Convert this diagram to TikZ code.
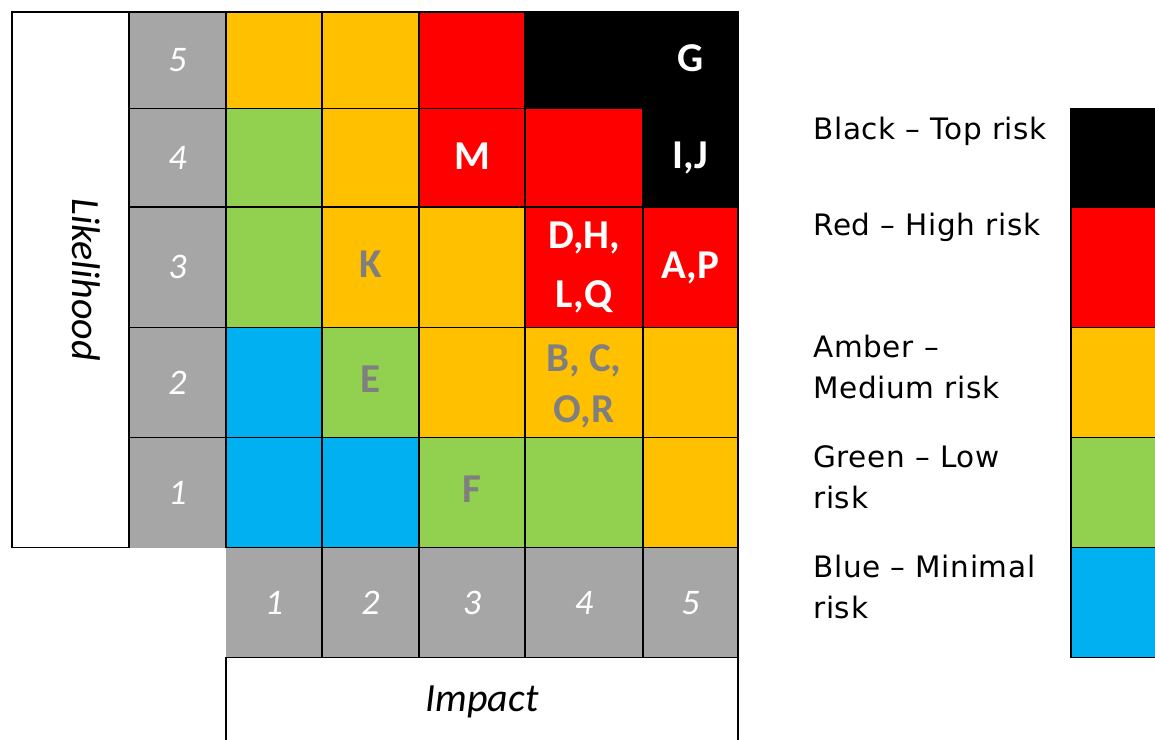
\documentclass[tikz,border=0pt]{standalone}
\usepackage{fontspec}
\setmainfont{Carlito}
\newfontfamily\legendfont[LetterSpace=2.4]{DejaVu Sans}
\definecolor{amber}{HTML}{FFC000}
\definecolor{riskred}{HTML}{FF0000}
\definecolor{riskgreen}{HTML}{92D050}
\definecolor{riskblue}{HTML}{00B0F0}
\definecolor{hdrgray}{HTML}{A6A6A6}
\definecolor{labgray}{HTML}{7F7F7F}
\begin{document}
\begin{tikzpicture}[x=1pt,y=-1pt,
  gridline/.style={line width=1.6pt, line cap=rect, black},
  numlab/.style={text=white, font=\fontsize{36}{40}\selectfont\itshape, anchor=base, inner sep=0pt},
  riskw/.style={text=white, font=\fontsize{41}{48}\selectfont\bfseries, anchor=base, inner sep=0pt},
  riskg/.style={riskw, text=labgray},
  axislab/.style={text=black, font=\fontsize{40}{46}\selectfont\itshape, anchor=base, inner sep=0pt},
  legtxt/.style={text=black, font=\legendfont\fontsize{29.5}{41}\selectfont, anchor=base west, inner sep=0pt}]
\useasboundingbox (0,0) rectangle (1155,739);
\fill[white] (0,0) rectangle (1155,739);
% header fills
\fill[hdrgray] (129,12) rectangle (226,547.5);
\fill[hdrgray] (226,547.5) rectangle (738,657.5);
% row 5
\fill[amber] (226,12) rectangle (322,108.5);
\fill[amber] (322,12) rectangle (419,108.5);
\fill[riskred] (419,12) rectangle (525,108.5);
\fill[black] (525,12) rectangle (738,108.5);
% row 4
\fill[riskgreen] (226,108.5) rectangle (322,207);
\fill[amber] (322,108.5) rectangle (419,207);
\fill[riskred] (419,108.5) rectangle (525,207);
\fill[riskred] (525,108.5) rectangle (643,207);
\fill[black] (643,108.5) rectangle (738,207);
% row 3
\fill[riskgreen] (226,207) rectangle (322,327.5);
\fill[amber] (322,207) rectangle (419,327.5);
\fill[amber] (419,207) rectangle (525,327.5);
\fill[riskred] (525,207) rectangle (643,327.5);
\fill[riskred] (643,207) rectangle (738,327.5);
% row 2
\fill[riskblue] (226,327.5) rectangle (322,437.5);
\fill[riskgreen] (322,327.5) rectangle (419,437.5);
\fill[amber] (419,327.5) rectangle (525,437.5);
\fill[amber] (525,327.5) rectangle (643,437.5);
\fill[amber] (643,327.5) rectangle (738,437.5);
% row 1
\fill[riskblue] (226,437.5) rectangle (322,547.5);
\fill[riskblue] (322,437.5) rectangle (419,547.5);
\fill[riskgreen] (419,437.5) rectangle (525,547.5);
\fill[riskgreen] (525,437.5) rectangle (643,547.5);
\fill[amber] (643,437.5) rectangle (738,547.5);
% legend fills
\fill[black] (1071,108.5) rectangle (1160,207);
\fill[riskred] (1071,207) rectangle (1160,327.5);
\fill[amber] (1071,327.5) rectangle (1160,437.5);
\fill[riskgreen] (1071,437.5) rectangle (1160,547.5);
\fill[riskblue] (1071,547.5) rectangle (1160,657.5);
% grid lines
\draw[gridline] (12,12) rectangle (129,547.5);
\draw[gridline] (129,12) -- (738,12);
\foreach \yy in {108.5,207,327.5,437.5} \draw[gridline] (129,\yy) -- (738,\yy);
\draw[gridline] (226,547.5) -- (738,547.5);
\draw[gridline] (226,657.5) -- (738,657.5);
\draw[gridline] (226,12) -- (226,547.5);
\draw[gridline] (226,657.5) -- (226,745);
\foreach \xx in {322,419,525,643} \draw[gridline] (\xx,12) -- (\xx,657.5);
\draw[gridline] (738,12) -- (738,745);
% legend lines
\draw[gridline] (1071,108.5) -- (1071,657.5);
\foreach \yy in {108.5,207,327.5,437.5,547.5,657.5} \draw[gridline] (1071,\yy) -- (1160,\yy);
% axis labels
\node[axislab, rotate=-90] (likelihood) at (72,279.5) {Likelihood};
\node[axislab] (impact) at (482,711.5) {Impact};
% row header numbers
\node[numlab] (l5) at (177.5,71.5) {5};
\node[numlab] (l4) at (177.5,169) {4};
\node[numlab] (l3) at (177.5,278.5) {3};
\node[numlab] (l2) at (177.5,394) {2};
\node[numlab] (l1) at (177.5,504) {1};
% impact numbers
\node[numlab] (i1) at (274,614) {1};
\node[numlab] (i2) at (370.5,614) {2};
\node[numlab] (i3) at (472,614) {3};
\node[numlab] (i4) at (584,614) {4};
\node[numlab] (i5) at (690.5,614) {5};
% risk labels
\node[riskw] (rG) at (690.5,71) {G};
\node[riskw] (rM) at (472,169) {M};
\node[riskw] (rIJ) at (690.5,168.5) {I,J};
\node[riskg] (rK) at (370.5,277.7) {K};
\node[riskw] (rDH) at (584,248.3) {D,H,};
\node[riskw] (rLQ) at (584,307.8) {L,Q};
\node[riskw] (rAP) at (690.5,278.3) {A,P};
\node[riskg] (rE) at (370.5,392.7) {E};
\node[riskg] (rBC) at (584,371.7) {B, C,};
\node[riskg] (rOR) at (584,422.7) {O,R};
\node[riskg] (rF) at (472,502.7) {F};
% legend text
\node[legtxt] (lgK) at (813,139.3) {Black – Top risk};
\node[legtxt] (lgR) at (813,235.7) {Red – High risk};
\node[legtxt] (lgA1) at (813,357.7) {Amber –};
\node[legtxt] (lgA2) at (813,398.7) {Medium risk};
\node[legtxt] (lgG1) at (813,467.3) {Green – Low};
\node[legtxt] (lgG2) at (813,508.3) {risk};
\node[legtxt] (lgB1) at (813,577.3) {Blue – Minimal};
\node[legtxt] (lgB2) at (813,618.3) {risk};
\end{tikzpicture}
\end{document}
